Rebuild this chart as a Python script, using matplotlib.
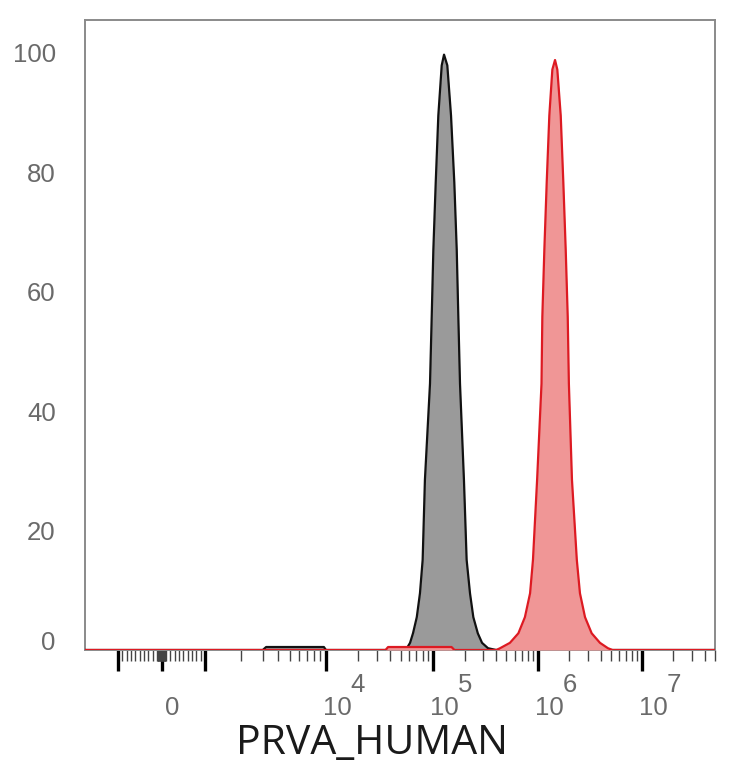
import matplotlib
matplotlib.use("Agg")
import matplotlib.pyplot as plt
import matplotlib.transforms as mtransforms
import numpy as np

# histogram traces (intensity, % of max)
GRAY_X = [-1900, 3.0e3, 3.2e3, 9.6e3, 1.0e4, 5.0e4, 5.7e4, 6.1e4, 6.5e4, 7.05e4, 7.55e4,
          8.0e4, 8.4e4, 9.37e4, 9.72e4, 1.007e5, 1.061e5, 1.123e5, 1.21e5, 1.273e5,
          1.368e5, 1.484e5, 1.595e5, 1.682e5, 1.742e5, 1.807e5, 1.97e5, 2.09e5, 2.25e5,
          2.42e5, 2.67e5, 2.93e5, 3.34e5, 4.0e5, 6.0e7]
GRAY_Y = [0, 0, 0.5, 0.5, 0, 0, 0.3, 1.2, 2.8, 5.5, 9.5,
          15.1, 28.5, 44.6, 55.8, 67.0, 78.3, 89.5, 97.9, 99.7,
          97.9, 89.5, 78.3, 67.0, 55.8, 44.6, 28.5, 15.1, 9.5,
          5.5, 2.8, 1.2, 0.3, 0, 0]

RED_X = [-1900, 3.6e4, 3.8e4, 1.5e5, 1.6e5, 4.0e5, 4.35e5, 5.4e5, 6.5e5, 7.5e5, 8.4e5,
         8.95e5, 9.8e5, 1.08e6, 1.10e6, 1.15e6, 1.212e6, 1.284e6, 1.373e6, 1.457e6,
         1.533e6, 1.653e6, 1.751e6, 1.846e6, 1.93e6, 1.98e6, 2.12e6, 2.36e6, 2.53e6,
         2.83e6, 3.28e6, 3.94e6, 4.7e6, 5.2e6, 6.0e7]
RED_Y = [0, 0, 0.5, 0.5, 0, 0, 0.3, 1.2, 2.8, 5.5, 9.5,
         15.1, 28.5, 44.6, 55.8, 67.0, 78.3, 89.5, 97.2, 98.8,
         97.2, 89.5, 78.3, 67.0, 55.8, 44.6, 28.5, 15.1, 9.5,
         5.5, 2.8, 1.2, 0.3, 0, 0]

Y_TICKS = [0, 20, 40, 60, 80, 100]
MAJOR_X = [-1000, 0, 1000, 1e4, 1e5, 1e6, 1e7]
DECADE_LABELS = [(1e4, "4"), (1e5, "5"), (1e6, "6"), (1e7, "7")]
X_LABEL = "PRVA_HUMAN"

# biexponential-like display: linear around zero, log above 10^3
LIN = 0.0435
DEC = [3, 4, 5, 6, 7, 8]
POS = [43.5, 164.5, 271.5, 376.5, 480.5, 584.5]


def fwd(x):
    x = np.asarray(x, dtype=float)
    a = np.abs(x)
    lg = np.log10(np.maximum(a, 1e-9))
    pos = np.where(a <= 1000, a * LIN, np.interp(lg, DEC, POS))
    return np.sign(x) * pos


def inv(p):
    p = np.asarray(p, dtype=float)
    a = np.abs(p)
    val = np.where(a <= POS[0], a / LIN, 10 ** np.interp(a, POS, DEC))
    return np.sign(p) * val


def minor_ticks():
    ticks = []
    for m in range(1, 10):
        ticks += [m * 10, m * 100, -m * 10, -m * 100]
    for e in (3, 4, 5, 6):
        ticks += [m * 10 ** e for m in range(2, 10)]
    ticks += [m * 1e7 for m in range(2, 6)]
    return sorted(ticks)


def main() -> None:
    fig = plt.figure(figsize=(7.34, 7.68), dpi=100)
    ax = fig.add_axes([85 / 734, 1 - 650 / 768, 630 / 734, 630 / 768])
    ax.set_xscale("function", functions=(fwd, inv))
    ax.set_xlim(-1874, 5.03e7)
    ax.set_ylim(0, 105.5)

    ax.fill_between(GRAY_X, GRAY_Y, 0, color="#9a9a9a", lw=0, zorder=2)
    ax.plot(GRAY_X, GRAY_Y, color="#111111", lw=1.6, zorder=3)
    ax.fill_between(RED_X, RED_Y, 0, color="#f09696", lw=0, zorder=4)
    ax.plot(RED_X, RED_Y, color="#dd1a22", lw=1.6, zorder=5)

    for sp in ax.spines.values():
        sp.set_color("#8a8a8a")
        sp.set_linewidth(1.4)

    ax.set_yticks(Y_TICKS)
    ax.set_yticklabels([str(v) for v in Y_TICKS], family="Liberation Sans",
                       fontsize=18.5, color="#6a6a6a")
    ax.tick_params(axis="y", length=0, pad=21)
    lab0 = ax.get_yticklabels()[0]
    lab0.set_transform(lab0.get_transform() + mtransforms.ScaledTranslation(0, 10 / 100, fig.dpi_scale_trans))

    ax.set_xticks(MAJOR_X)
    ax.set_xticklabels([""] * len(MAJOR_X))
    ax.set_xticks(minor_ticks(), minor=True)
    ax.tick_params(axis="x", which="major", length=15, width=2.4, color="black", direction="out")
    ax.tick_params(axis="x", which="minor", length=8, width=1.0, color="#444444", direction="out")

    base = mtransforms.blended_transform_factory(ax.transData, ax.transAxes)
    font = dict(family="Liberation Sans", fontsize=18.5, color="#6a6a6a")
    t0 = mtransforms.offset_copy(base, fig, x=11, y=-58, units="dots")
    ax.text(0, 0, "0", transform=t0, ha="center", va="center", **font)
    for val, ex in DECADE_LABELS:
        t1 = mtransforms.offset_copy(base, fig, x=11, y=-58, units="dots")
        ax.text(val, 0, "10", transform=t1, ha="center", va="center", **font)
        t2 = mtransforms.offset_copy(base, fig, x=32, y=-35, units="dots")
        ax.text(val, 0, ex, transform=t2, ha="center", va="center", **font)

    fig.text(372 / 734, 1 - 744 / 768, X_LABEL, family="Open Sans", fontsize=29.5,
             color="#1a1a1a", ha="center", va="center")

    fig.savefig("out.png", dpi=100)


if __name__ == "__main__":
    main()
